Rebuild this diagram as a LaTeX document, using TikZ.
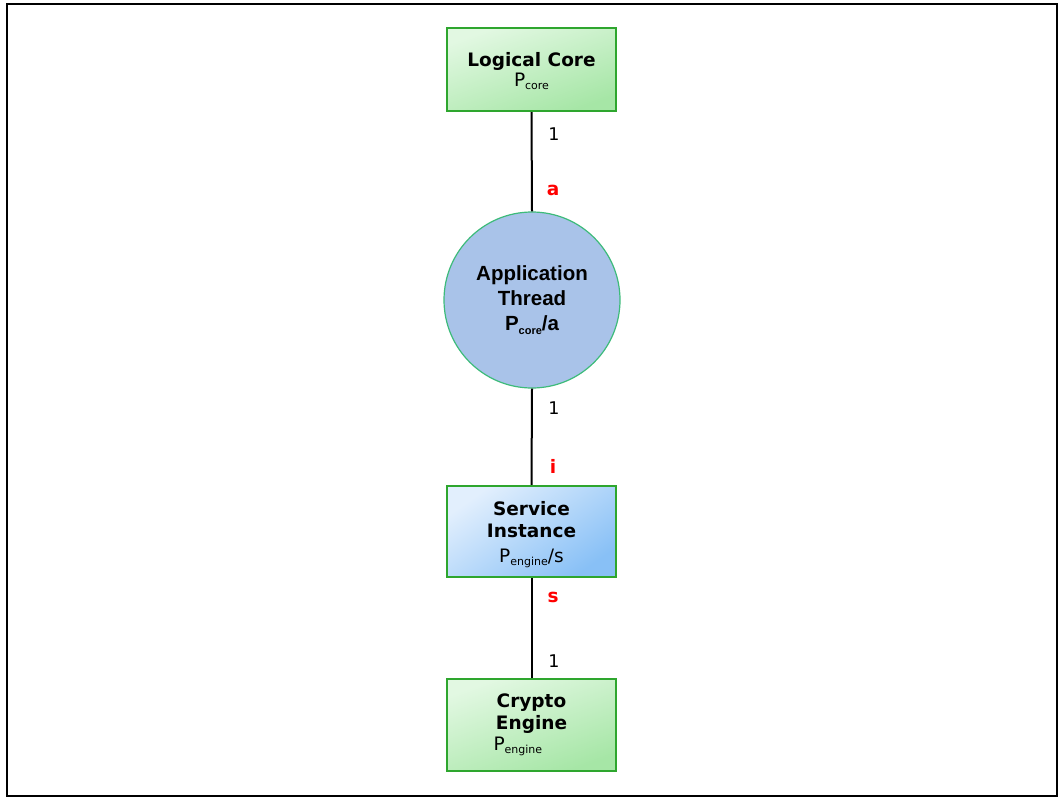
\documentclass[tikz,border=0pt]{standalone}
\usepackage{fontspec}
\setmainfont{DejaVu Sans}
\newfontfamily\arialfont{Liberation Sans}
\usetikzlibrary{calc}
\definecolor{gborder}{HTML}{2EA62E}
\definecolor{glight}{HTML}{E2F8E2}
\definecolor{gdark}{HTML}{A6E6A6}
\definecolor{blight}{HTML}{E2EFFD}
\definecolor{bdark}{HTML}{88C0F6}
\definecolor{circfill}{HTML}{A9C3E9}
\definecolor{circline}{HTML}{3DBB7A}
\tikzset{
  greenbox/.style={draw=gborder, line width=2.2pt, minimum width=169pt, minimum height=83pt,
    top color=glight, bottom color=gdark, shading angle=20, align=center, inner sep=0pt,
    font=\fontsize{18.5}{22}\selectfont\bfseries},
  bluebox/.style={draw=gborder, line width=2.2pt, minimum width=169pt, minimum height=91pt,
    top color=blight, bottom color=bdark, shading angle=35, align=center, inner sep=0pt,
    font=\fontsize{18.5}{22}\selectfont\bfseries},
  circ/.style={circle, draw=circline, line width=1.2pt, fill=circfill, minimum size=176pt,
    align=center, inner sep=0pt, font=\arialfont\fontsize{20.5}{25}\selectfont\bfseries},
  conn/.style={draw=black, line width=2pt},
  num/.style={font=\fontsize{17.5}{20}\selectfont, anchor=center},
  mult/.style={font=\fontsize{18.5}{20}\selectfont\bfseries, text=red, anchor=center},
}
\newcommand{\sbs}[1]{\raisebox{-0.3ex}{\fontsize{11}{11}\selectfont\mdseries #1}}
\begin{document}
\begin{tikzpicture}[x=1pt,y=-1pt]
\useasboundingbox (0,0) rectangle (1060,798);
\draw[line width=1.6pt] (7,4) rectangle (1057,796);

\node[greenbox] (core) at (531.5,69.5) {\rule{0pt}{18pt}Logical Core\\[-2pt]{\mdseries P\sbs{core}}};
\node[circ] (thread) at (532,300) {Application\\Thread\\P\sbs{\bfseries core}/a};
\node[bluebox] (svc) at (531.5,531.5) {\rule{0pt}{20pt}Service\\Instance\\[3pt]{\mdseries P\sbs{engine}/s}};
\node[greenbox, minimum height=92pt] (eng) at (531.5,725) {Crypto\\Engine\\[-1pt]\hbox to 76pt{\mdseries P\sbs{engine}\hfil}};

\draw[conn] (core.south) -- (thread.north);
\draw[conn] (thread.south) -- (svc.north);
\draw[conn] (svc.south) -- (eng.north);

\node[num] (n1) at (554,134) {1};
\node[mult] (ma) at (553,190) {a};
\node[num] (n2) at (554,408) {1};
\node[mult] (mi) at (553,466) {i};
\node[mult] (ms) at (553,597) {s};
\node[num] (n3) at (554,661) {1};
\end{tikzpicture}
\end{document}
